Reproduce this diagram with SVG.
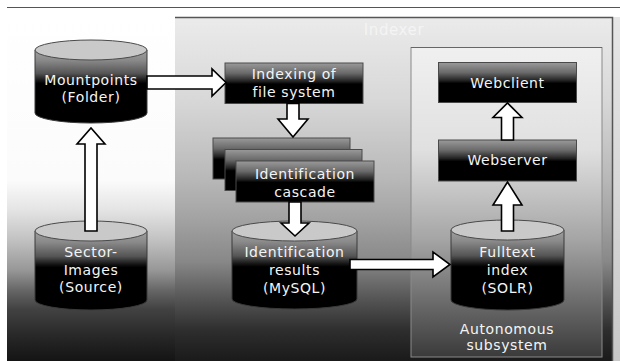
<svg xmlns="http://www.w3.org/2000/svg" width="620" height="361" viewBox="0 0 620 361">
  <defs>
    <linearGradient id="bgOuter" gradientUnits="userSpaceOnUse" x1="0" y1="14" x2="0" y2="361">
      <stop offset="0" stop-color="#ffffff"/>
      <stop offset="0.48" stop-color="#fbfbfb"/>
      <stop offset="0.565" stop-color="#e4e4e4"/>
      <stop offset="0.65" stop-color="#c2c2c2"/>
      <stop offset="0.74" stop-color="#969696"/>
      <stop offset="0.795" stop-color="#676767"/>
      <stop offset="0.85" stop-color="#424242"/>
      <stop offset="0.94" stop-color="#242424"/>
      <stop offset="1" stop-color="#141414"/>
    </linearGradient>
    <linearGradient id="bgIndexer" gradientUnits="userSpaceOnUse" x1="0" y1="17" x2="0" y2="361">
      <stop offset="0" stop-color="#ebebeb"/>
      <stop offset="0.24" stop-color="#d8d8d8"/>
      <stop offset="0.47" stop-color="#b8b8b8"/>
      <stop offset="0.59" stop-color="#a2a2a2"/>
      <stop offset="0.71" stop-color="#888888"/>
      <stop offset="0.82" stop-color="#555555"/>
      <stop offset="0.91" stop-color="#2e2e2e"/>
      <stop offset="1" stop-color="#1a1a1a"/>
    </linearGradient>
    <linearGradient id="bgSub" gradientUnits="userSpaceOnUse" x1="0" y1="47" x2="0" y2="357">
      <stop offset="0" stop-color="#f0f0f0"/>
      <stop offset="0.33" stop-color="#e0e0e0"/>
      <stop offset="0.47" stop-color="#c4c4c4"/>
      <stop offset="0.62" stop-color="#a5a5a5"/>
      <stop offset="0.82" stop-color="#6c6c6c"/>
      <stop offset="1" stop-color="#3a3a3a"/>
    </linearGradient>
    <linearGradient id="strip" x1="0" y1="0" x2="0" y2="1">
      <stop offset="0" stop-color="#e6e6e6"/>
      <stop offset="1" stop-color="#c8c8c8"/>
    </linearGradient>
    <linearGradient id="boxFill" x1="0" y1="0" x2="0" y2="1">
      <stop offset="0" stop-color="#9a9a9a"/>
      <stop offset="0.25" stop-color="#6a6a6a"/>
      <stop offset="0.45" stop-color="#222222"/>
      <stop offset="0.52" stop-color="#000000"/>
      <stop offset="1" stop-color="#000000"/>
    </linearGradient>
    <linearGradient id="cylFill" x1="0" y1="0" x2="0" y2="1">
      <stop offset="0" stop-color="#a0a0a0"/>
      <stop offset="0.14" stop-color="#8a8a8a"/>
      <stop offset="0.32" stop-color="#555555"/>
      <stop offset="0.42" stop-color="#151515"/>
      <stop offset="0.46" stop-color="#000000"/>
      <stop offset="1" stop-color="#000000"/>
    </linearGradient>
    <style>
      .box { fill: url(#boxFill); stroke: #4a4a4a; stroke-width: 1; }
      .cyl { fill: url(#cylFill); stroke: #3a3a3a; stroke-width: 1; }
      .cap { fill: #c9c9c9; stroke: #4a4a4a; stroke-width: 1; }
      .lbl { font-family: "DejaVu Sans", Verdana, sans-serif; font-size: 14px; letter-spacing: 0.6px; fill: #f4f4f4; text-anchor: middle; }
      .arrow { fill: #ffffff; stroke: #000000; stroke-width: 1.6; stroke-linejoin: miter; }
    </style>
  </defs>

  <!-- backgrounds -->
  <rect x="0" y="0" width="620" height="361" fill="#ffffff"/>
  <line x1="7" y1="7.5" x2="620" y2="7.5" stroke="#555555" stroke-width="1.2"/>
  <rect x="7" y="14" width="606" height="347" fill="url(#bgOuter)"/>
  <rect x="613" y="17" width="7" height="344" fill="url(#strip)"/>

  <g id="indexer">
    <rect x="175" y="17" width="437" height="344" fill="url(#bgIndexer)"/>
    <path d="M175,17.5 H612.5 V361" fill="none" stroke="#555555" stroke-width="1.5"/>
    <text class="lbl" x="394" y="35" font-size="15" style="font-size:15px" fill="#f6f6f6">Indexer</text>
  </g>

  <g id="autonomous-subsystem">
    <rect x="411" y="47.5" width="191" height="309.5" fill="url(#bgSub)" stroke="#8a8a8a" stroke-width="1"/>
    <line x1="411" y1="47.5" x2="602" y2="47.5" stroke="#666666" stroke-width="1.2"/>
    <text class="lbl" x="507" y="334">Autonomous</text>
    <text class="lbl" x="507" y="350">subsystem</text>
  </g>

  <!-- storage cylinders -->
  <g id="mountpoints">
    <path class="cyl" d="M35,50 V113 A56,10 0 0 0 147,113 V50 Z"/>
    <ellipse class="cap" cx="91" cy="50" rx="56" ry="10"/>
    <text class="lbl" x="91" y="85">Mountpoints</text>
    <text class="lbl" x="91" y="102">(Folder)</text>
  </g>

  <g id="sector-images">
    <path class="cyl" d="M35,231 V300 A56,10 0 0 0 147,300 V231 Z"/>
    <ellipse class="cap" cx="91" cy="231" rx="56" ry="10"/>
    <text class="lbl" x="91" y="257">Sector-</text>
    <text class="lbl" x="91" y="274.5">Images</text>
    <text class="lbl" x="91" y="292">(Source)</text>
  </g>

  <g id="identification-results">
    <path class="cyl" d="M232,231 V299 A62.5,10 0 0 0 357,299 V231 Z"/>
    <ellipse class="cap" cx="294.5" cy="231" rx="62.5" ry="10"/>
    <text class="lbl" x="294.5" y="257">Identification</text>
    <text class="lbl" x="294.5" y="274.5">results</text>
    <text class="lbl" x="294.5" y="293">(MySQL)</text>
  </g>

  <g id="fulltext-index">
    <path class="cyl" d="M451,230 V300 A56.5,10 0 0 0 564,300 V230 Z"/>
    <ellipse class="cap" cx="507.5" cy="230" rx="56.5" ry="10"/>
    <text class="lbl" x="507.5" y="257">Fulltext</text>
    <text class="lbl" x="507.5" y="274.5">index</text>
    <text class="lbl" x="507.5" y="293">(SOLR)</text>
  </g>

  <!-- process boxes -->
  <g id="indexing">
    <rect class="box" x="225" y="63" width="138" height="40.5"/>
    <text class="lbl" x="294" y="78.5">Indexing of</text>
    <text class="lbl" x="294" y="97">file system</text>
  </g>

  <g id="identification-cascade">
    <rect class="box" x="213" y="138" width="137" height="41"/>
    <rect class="box" x="225" y="149.5" width="137" height="41"/>
    <rect class="box" x="236" y="161" width="138" height="41"/>
    <text class="lbl" x="305" y="178.5">Identification</text>
    <text class="lbl" x="305" y="196.5">cascade</text>
  </g>

  <g id="webclient">
    <rect class="box" x="438.5" y="62.5" width="138" height="40"/>
    <text class="lbl" x="507.5" y="87.5">Webclient</text>
  </g>

  <g id="webserver">
    <rect class="box" x="438.5" y="140" width="138" height="41"/>
    <text class="lbl" x="507.5" y="165">Webserver</text>
  </g>

  <!-- block arrows -->
  <g id="connectors">
    <polygon class="arrow" points="147,76 212,76 212,69 226,82.5 212,96 212,89 147,89"/>
    <polygon class="arrow" points="85,231 85,144 77,144 91,128 105,144 97,144 97,231"/>
    <polygon class="arrow" points="287,103.5 287,119 278,119 293,137 308,119 299,119 299,103.5"/>
    <polygon class="arrow" points="289,202 289,223 281,223 295,236 309,223 301,223 301,202"/>
    <polygon class="arrow" points="350,259.5 433,259.5 433,252 450,264.5 433,277 433,269.5 350,269.5"/>
    <polygon class="arrow" points="501.5,231 501.5,205 493,205 507.5,182 522,205 513.5,205 513.5,231"/>
    <polygon class="arrow" points="501.5,140 501.5,117.5 493,117.5 507.5,103 522,117.5 513.5,117.5 513.5,140"/>
  </g>
</svg>
